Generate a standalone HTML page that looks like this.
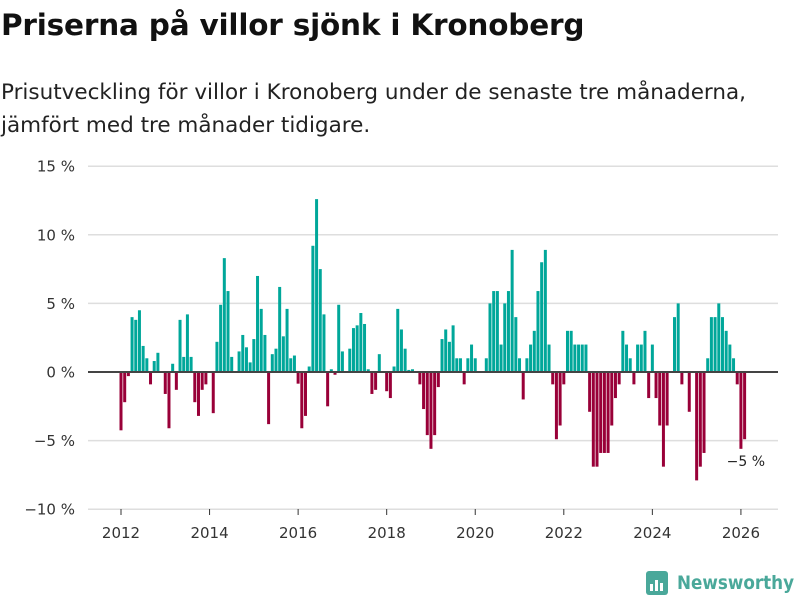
<!DOCTYPE html>
<html><head><meta charset="utf-8"><style>
body{margin:0;background:#fff;font-family:"DejaVu Sans","Liberation Sans",sans-serif;}
#wrap{position:relative;width:800px;height:600px;overflow:hidden;}
h1{position:absolute;left:1px;top:8px;margin:0;font-size:29.5px;font-weight:bold;color:#111;letter-spacing:-0.2px;white-space:nowrap;}
.sub{position:absolute;left:1px;top:76px;margin:0;font-size:21.5px;line-height:33px;color:#222;white-space:nowrap;}
</style></head><body>
<div id="wrap">
<h1>Priserna på villor sjönk i Kronoberg</h1>
<p class="sub">Prisutveckling för villor i Kronoberg under de senaste tre månaderna,<br>jämfört med tre månader tidigare.</p>
<svg id="chart" width="800" height="600" style="position:absolute;left:0;top:0"></svg>
</div>
<script>
const startYear = 2012;
const values = [-4.25,-2.2,-0.3,4.0,3.8,4.5,1.9,1.0,-0.9,0.8,1.4,0,-1.6,-4.1,0.6,-1.3,3.8,1.1,4.2,1.1,-2.2,-3.2,-1.3,-0.9,0,-3.0,2.2,4.9,8.3,5.9,1.1,0,1.5,2.7,1.8,0.7,2.4,7.0,4.6,2.7,-3.8,1.3,
1.7,6.2,2.6,4.6,1.0,1.2,-0.85,-4.1,-3.2,0.4,9.2,12.6,7.5,4.2,-2.5,0.2,-0.2,4.9,1.5,0,1.7,3.2,3.4,4.3,3.5,0.2,-1.6,-1.3,1.3,0,-1.4,-1.9,0.4,4.6,3.1,1.7,0.15,0.2,0,-0.9,-2.7,-4.6,
-5.6,-4.6,-1.1,2.4,3.1,2.2,3.4,1.0,1.0,-0.9,1.0,2.0,1.0,0,0,1.0,5.0,5.9,5.9,2.0,5.0,5.9,8.9,4.0,1.0,-2.0,1.0,2.0,3.0,5.9,8.0,8.9,2.0,-0.9,-4.9,-3.9,-0.9,3.0,3.0,2.0,2.0,2.0,
2.0,-2.9,-6.9,-6.9,-5.9,-5.9,-5.9,-3.9,-1.9,-0.9,3.0,2.0,1.0,-0.9,2.0,2.0,3.0,-1.9,2.0,-1.9,-3.9,-6.9,-3.9,0,4.0,5.0,-0.9,0,-2.9,0,-7.9,-6.9,-5.9,1.0,4.0,4.0,5.0,4.0,3.0,2.0,1.0,-0.9,-5.6,-4.9];
const yTicks = [15,10,5,0,-5,-10];
const yTickLabels = ["15 %","10 %","5 %","0 %","−5 %","−10 %"];
const xTicks = [2012,2014,2016,2018,2020,2022,2024,2026];
const lastLabel = "−5 %";

const NS="http://www.w3.org/2000/svg";
const svg=document.getElementById('chart');
function y(v){return 372 - v*13.72;}
function x(yr){return 121 + (yr-2012)*44.28;}
function mk(t,a){const e=document.createElementNS(NS,t);for(const k in a)e.setAttribute(k,a[k]);svg.appendChild(e);return e;}

yTicks.forEach((t,i)=>{
  if(t!==0){const g=mk('line',{x1:88,x2:778,y1:y(t),y2:y(t),stroke:'#dedede','stroke-width':1.5});
  
  }
  const l=mk('text',{x:75,y:y(t)+5.5,'text-anchor':'end','font-size':15,fill:'#333'});
  l.textContent=yTickLabels[i];
  
  
});
xTicks.forEach(t=>{
  const tk=mk('line',{x1:x(t),x2:x(t),y1:509,y2:515,stroke:'#333','stroke-width':1});
  
  
  const l=mk('text',{x:x(t),y:538,'text-anchor':'middle','font-size':15,fill:'#333'});
  l.textContent=t;
  
  
});
values.forEach((v,i)=>{
  const cx=x(startYear+i/12);
  const top=Math.min(y(v),y(0)), h=Math.abs(y(v)-y(0));
  const r=mk('rect',{x:cx-1.5,y:top,width:3,height:h,fill:v>=0?'#00a79a':'#990038'});
  
  
});
const z=mk('line',{x1:88,x2:778,y1:y(0),y2:y(0),stroke:'#444','stroke-width':2});


const lv=values[values.length-1];
const ll=mk('text',{x:x(startYear+(values.length-1)/12)-18,y:y(lv)+27,'font-size':14,fill:'#222'});
ll.textContent=lastLabel;



const logo=mk('g',{});


logo.innerHTML='<rect x="646" y="571" width="22" height="24" rx="3" fill="#4aa89a"/><rect x="650" y="584" width="3" height="7" fill="#fff"/><rect x="655" y="580" width="3" height="11" fill="#fff"/><rect x="660" y="583" width="3" height="8" fill="#fff"/><text x="677" y="589" font-size="19" font-weight="bold" fill="#4aa89a" textLength="117" lengthAdjust="spacingAndGlyphs">Newsworthy</text>';
</script>
</body></html>
